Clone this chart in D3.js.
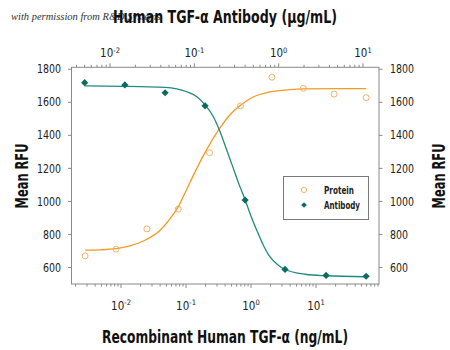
<!DOCTYPE html>
<html>
<head>
<meta charset="utf-8">
<script src="https://cdn.jsdelivr.net/npm/d3@7"></script>
<style>
  html, body { margin: 0; padding: 0; background: #fff; }
  svg { display: block; }
  .narrow { font-family: "Liberation Sans Narrow", "DejaVu Sans Condensed", "Arial Narrow", sans-serif; font-stretch: condensed; }
</style>
</head>
<body>
<svg id="chart" width="450" height="350"></svg>
<script>
// Recombinant protein dose (ng/mL, bottom axis) and antibody dose (µg/mL, top axis)
const proteinConc = [0.0028, 0.0084, 0.025, 0.076, 0.23, 0.69, 2.1, 6.4, 19, 59];
const proteinRFU  = [670, 711, 834, 953, 1295, 1578, 1752, 1685, 1650, 1628];

const antibodyConc = [0.005, 0.015, 0.045, 0.134, 0.4, 1.19, 3.65, 10.9];
const antibodyRFU  = [1719, 1705, 1658, 1579, 1008, 588, 552, 547];

// Fitted response curves
const proteinFitConc = [0.0028, 0.0048, 0.0084, 0.0137, 0.025, 0.040, 0.057, 0.076, 0.115, 0.185, 0.333, 0.475, 0.68, 1.08, 1.96, 3.98, 6.4, 59];
const proteinFitRFU  = [705, 707, 714, 731, 771, 826, 896, 968, 1115, 1277, 1445, 1525, 1581, 1632, 1663, 1677, 1681, 1683];

const antibodyFitConc = [0.005, 0.015, 0.045, 0.081, 0.107, 0.134, 0.168, 0.202, 0.242, 0.290, 0.348, 0.399, 0.457, 0.549, 0.658, 0.79, 0.99, 1.19, 2.06, 3.65, 10.9];
const antibodyFitRFU  = [1699, 1697, 1690, 1664, 1634, 1584, 1513, 1422, 1311, 1200, 1088, 1012, 927, 826, 735, 664, 614, 588, 559, 550, 544];

const yTicks = [600, 800, 1000, 1200, 1400, 1600, 1800];
const decadeExps = [-2, -1, 0, 1];

const seriesNames = ["Protein", "Antibody"];

const svg = d3.select("#chart");

const L = 71.5, R = 379, T = 67.3, B = 284;

const xBottom = d3.scaleLog().domain([Math.pow(10, -2.7615), Math.pow(10, 1.969)]).range([L, R]);
const xTop = d3.scaleLog().domain([Math.pow(10, -2.457), Math.pow(10, 1.19)]).range([L, R]);
const y = d3.scaleLinear().domain([500, 1812]).range([B, T]);

const axisColor = "#8a8a8a";
const orange = "#f39a22";
const orangeMark = "#f2b26a";
const tealLine = "#1f8a84";
const tealMark = "#0b6b60";

// watermark line beneath the top title
svg.append("text")
  .attr("x", 11).attr("y", 20)
  .attr("font-family", "'Liberation Serif', 'DejaVu Serif', serif")
  .attr("font-style", "italic")
  .attr("font-size", 10.5)
  .attr("fill", "#333")
  .text("with permission from R&D Systems");

// log-axis tick values: majors at decades, minors 2..9
function logTicks(scale) {
  const [d0, d1] = scale.domain();
  const out = [];
  for (let e = Math.floor(Math.log10(d0)); e <= Math.ceil(Math.log10(d1)); e++) {
    for (let m = 1; m <= 9; m++) {
      const v = m * Math.pow(10, e);
      if (v >= d0 && v <= d1) out.push({ v, major: m === 1 });
    }
  }
  return out;
}

// frame
svg.append("rect")
  .attr("x", L).attr("y", T).attr("width", R - L).attr("height", B - T)
  .attr("fill", "none").attr("stroke", axisColor).attr("stroke-width", 1);

// bottom ticks
svg.append("g").selectAll("line").data(logTicks(xBottom)).join("line")
  .attr("x1", d => xBottom(d.v)).attr("x2", d => xBottom(d.v))
  .attr("y1", B).attr("y2", d => B + (d.major ? 4 : 2.5))
  .attr("stroke", axisColor).attr("stroke-width", 1);

// top ticks
svg.append("g").selectAll("line").data(logTicks(xTop)).join("line")
  .attr("x1", d => xTop(d.v)).attr("x2", d => xTop(d.v))
  .attr("y1", T).attr("y2", d => T - (d.major ? 4 : 2.5))
  .attr("stroke", axisColor).attr("stroke-width", 1);

// left & right y ticks
svg.append("g").selectAll("line").data(yTicks).join("line")
  .attr("x1", L).attr("x2", L - 3.5).attr("y1", d => y(d)).attr("y2", d => y(d))
  .attr("stroke", axisColor);
svg.append("g").selectAll("line").data(yTicks).join("line")
  .attr("x1", R).attr("x2", R + 3.5).attr("y1", d => y(d)).attr("y2", d => y(d))
  .attr("stroke", axisColor);

// y tick labels
svg.append("g").selectAll("text").data(yTicks).join("text")
  .attr("class", "narrow")
  .attr("x", 61).attr("y", d => y(d)).attr("dy", "0.36em")
  .attr("text-anchor", "end").attr("font-size", 11.5).attr("fill", "#222")
  .attr("textLength", d => String(d).length * 6).attr("lengthAdjust", "spacingAndGlyphs")
  .text(d => d);
svg.append("g").selectAll("text").data(yTicks).join("text")
  .attr("class", "narrow")
  .attr("x", 390).attr("y", d => y(d)).attr("dy", "0.36em")
  .attr("text-anchor", "start").attr("font-size", 11.5).attr("fill", "#222")
  .attr("textLength", d => String(d).length * 6).attr("lengthAdjust", "spacingAndGlyphs")
  .text(d => d);

// decade labels with superscript exponents
function decadeLabels(scale, yPos) {
  const t = svg.append("g").selectAll("text").data(decadeExps).join("text")
    .attr("class", "narrow")
    .attr("x", d => scale(Math.pow(10, d))).attr("y", yPos)
    .attr("text-anchor", "middle").attr("font-size", 11.5).attr("fill", "#222");
  t.append("tspan").text("10");
  t.append("tspan").attr("dy", -4.5).attr("font-size", 7.5).text(d => d < 0 ? "-" + (-d) : String(d));
}
decadeLabels(xBottom, 309.5);
decadeLabels(xTop, 57);

// axis titles
function title(sel, len) {
  return sel.attr("class", "narrow").attr("text-anchor", "middle")
    .attr("font-weight", "bold").attr("fill", "#111")
    .attr("textLength", len).attr("lengthAdjust", "spacingAndGlyphs");
}
title(svg.append("text").attr("x", 225).attr("y", 23).attr("font-size", 17.5), 224)
  .text("Human TGF-α Antibody (µg/mL)");
title(svg.append("text").attr("x", 225).attr("y", 343).attr("font-size", 18), 246)
  .text("Recombinant Human TGF-α (ng/mL)");
title(svg.append("text").attr("transform", "translate(28,176) rotate(-90)").attr("font-size", 17), 65)
  .text("Mean RFU");
title(svg.append("text").attr("transform", "translate(445,176) rotate(-90)").attr("font-size", 17), 65)
  .text("Mean RFU");

// fitted curves
const proteinFit = proteinFitConc.map((c, i) => [c, proteinFitRFU[i]]);
const antibodyFit = antibodyFitConc.map((c, i) => [c, antibodyFitRFU[i]]);

svg.append("path")
  .datum(proteinFit)
  .attr("fill", "none").attr("stroke", orange).attr("stroke-width", 1.3)
  .attr("d", d3.line().x(d => xBottom(d[0])).y(d => y(d[1])).curve(d3.curveMonotoneX));

svg.append("path")
  .datum(antibodyFit)
  .attr("fill", "none").attr("stroke", tealLine).attr("stroke-width", 1.3)
  .attr("d", d3.line().x(d => xTop(d[0])).y(d => y(d[1])).curve(d3.curveMonotoneX));

// points
const proteinPts = proteinConc.map((c, i) => [c, proteinRFU[i]]);
const antibodyPts = antibodyConc.map((c, i) => [c, antibodyRFU[i]]);

svg.append("g").selectAll("circle").data(proteinPts).join("circle")
  .attr("cx", d => xBottom(d[0])).attr("cy", d => y(d[1])).attr("r", 3)
  .attr("fill", "none").attr("stroke", orangeMark).attr("stroke-width", 1);

const diamond = d3.symbol().type(d3.symbolSquare).size(26);
svg.append("g").selectAll("path").data(antibodyPts).join("path")
  .attr("transform", d => `translate(${xTop(d[0])},${y(d[1])}) rotate(45)`)
  .attr("d", diamond).attr("fill", tealMark);

// legend
const lg = svg.append("g");
lg.append("rect").attr("x", 283.5).attr("y", 176.5).attr("width", 85).attr("height", 43)
  .attr("fill", "#fff").attr("stroke", "#7a7a7a").attr("stroke-width", 1);
lg.append("circle").attr("cx", 304).attr("cy", 190).attr("r", 2.6)
  .attr("fill", "none").attr("stroke", orangeMark).attr("stroke-width", 1);
lg.append("path").attr("transform", "translate(304,205) rotate(45)")
  .attr("d", d3.symbol().type(d3.symbolSquare).size(16)).attr("fill", tealMark);
lg.selectAll("text").data(seriesNames).join("text")
  .attr("class", "narrow")
  .attr("x", 324).attr("y", (d, i) => 190 + i * 15).attr("dy", "0.36em")
  .attr("font-size", 10.5).attr("font-weight", "bold").attr("fill", "#222")
  .attr("textLength", (d, i) => [30, 36][i]).attr("lengthAdjust", "spacingAndGlyphs")
  .text(d => d);
</script>
</body>
</html>
